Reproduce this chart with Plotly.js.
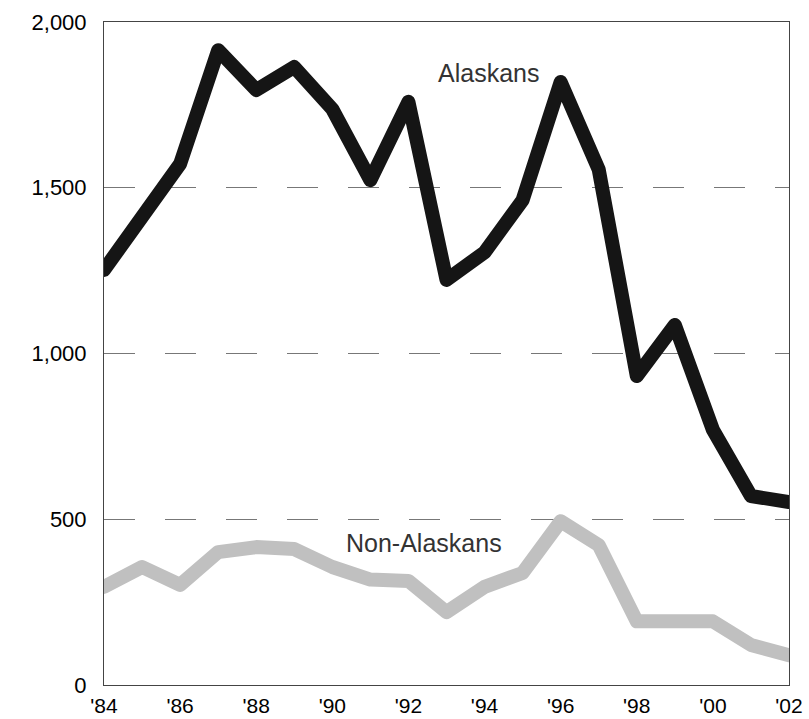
<!DOCTYPE html>
<html>
<head>
<meta charset="utf-8">
<script src="https://cdn.plot.ly/plotly-3.0.1.min.js"></script>
<style>
  html, body { margin: 0; padding: 0; background: #fff; }
  #chart { width: 809px; height: 719px; }
  .js-line { stroke-linecap: round; stroke-linejoin: round; }
  .cartesianlayer .plot { clip-path: none !important; }
</style>
</head>
<body>
<div id="chart"></div>
<script>
const years = [1984, 1985, 1986, 1987, 1988, 1989, 1990, 1991, 1992, 1993, 1994, 1995, 1996, 1997, 1998, 1999, 2000, 2001, 2002];
const alaskans = [1252, 1410, 1572, 1915, 1795, 1864, 1737, 1523, 1759, 1222, 1305, 1463, 1819, 1555, 932, 1086, 770, 570, 552];
const nonAlaskans = [296, 356, 302, 401, 416, 410, 356, 318, 314, 220, 296, 338, 494, 422, 192, 192, 192, 121, 90];
const xTickVals = [1984, 1986, 1988, 1990, 1992, 1994, 1996, 1998, 2000, 2002];
const xTickText = ["'84", "'86", "'88", "'90", "'92", "'94", "'96", "'98", "'00", "'02"];
const yTickVals = [0, 500, 1000, 1500, 2000];
const seriesNames = ["Alaskans", "Non-Alaskans"];

const font = "Liberation Sans, Arial, sans-serif";

const traces = [
  {
    x: years, y: nonAlaskans, name: seriesNames[1], type: "scatter", mode: "lines",
    line: { color: "#c0c0c0", width: 14 }, cliponaxis: false, hoverinfo: "skip"
  },
  {
    x: years, y: alaskans, name: seriesNames[0], type: "scatter", mode: "lines",
    line: { color: "#151515", width: 14 }, cliponaxis: false, hoverinfo: "skip"
  }
];

const layout = {
  width: 809, height: 719,
  margin: { l: 104, r: 20, t: 22, b: 34, pad: 0 },
  paper_bgcolor: "#ffffff", plot_bgcolor: "#ffffff",
  showlegend: false,
  font: { family: font, color: "#000", size: 22 },
  xaxis: {
    range: [1984, 2002],
    tickvals: xTickVals, ticktext: xTickText,
    showgrid: false, zeroline: false,
    showline: true, mirror: true, linecolor: "#444", linewidth: 1,
    ticks: "", ticklabelstandoff: 2,
    tickfont: { family: font, size: 21, color: "#000" }
  },
  yaxis: {
    range: [0, 2000],
    tickvals: yTickVals, tickformat: ",d",
    showgrid: true, gridcolor: "#777", gridwidth: 1, griddash: "31px,30px",
    zeroline: false,
    showline: true, mirror: true, linecolor: "#444", linewidth: 1,
    ticks: "", ticklabelstandoff: 12,
    tickfont: { family: font, size: 22, color: "#000" }
  },
  annotations: [
    { x: 1994.1, y: 1845, xref: "x", yref: "y", text: seriesNames[0], showarrow: false,
      font: { family: font, size: 25, color: "#333" }, xanchor: "center", yanchor: "middle" },
    { x: 1992.4, y: 428, xref: "x", yref: "y", text: seriesNames[1], showarrow: false,
      font: { family: font, size: 25, color: "#333" }, xanchor: "center", yanchor: "middle" }
  ]
};

Plotly.newPlot("chart", traces, layout, { staticPlot: true, displayModeBar: false });
</script>
</body>
</html>
